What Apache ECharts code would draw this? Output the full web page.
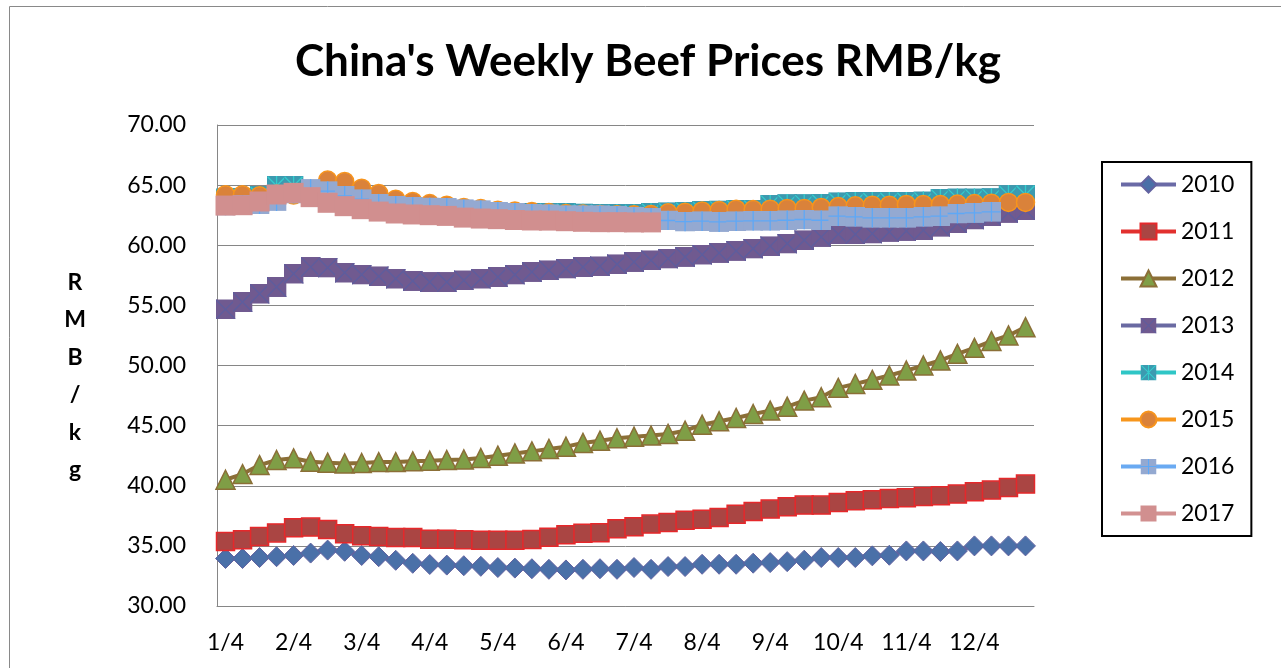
<!DOCTYPE html>
<html>
<head>
<meta charset="utf-8">
<title>China's Weekly Beef Prices RMB/kg</title>
<script src="https://cdn.jsdelivr.net/npm/echarts@6/dist/echarts.min.js"></script>
<style>
  html, body { margin: 0; padding: 0; background: #fff; }
  #chart { width: 1281px; height: 668px; }
</style>
</head>
<body>
<div id="chart"></div>
<script>
// weeks of the year, 4 per month
const weeks = [
  '1/4', '1/11', '1/18', '1/25', '2/4', '2/11', '2/18', '2/25',
  '3/4', '3/11', '3/18', '3/25', '4/4', '4/11', '4/18', '4/25',
  '5/4', '5/11', '5/18', '5/25', '6/4', '6/11', '6/18', '6/25',
  '7/4', '7/11', '7/18', '7/25', '8/4', '8/11', '8/18', '8/25',
  '9/4', '9/11', '9/18', '9/25', '10/4', '10/11', '10/18', '10/25',
  '11/4', '11/11', '11/18', '11/25', '12/4', '12/11', '12/18', '12/25'
];

const years = ['2010', '2011', '2012', '2013', '2014', '2015', '2016', '2017'];

const y2010 = [33.95, 33.95, 34.03, 34.1, 34.2, 34.4, 34.65, 34.55, 34.2, 34.1, 33.8, 33.55,
  33.45, 33.4, 33.35, 33.3, 33.2, 33.15, 33.1, 33.05, 33.0, 33.05, 33.1, 33.05,
  33.2, 33.05, 33.28, 33.28, 33.47, 33.47, 33.47, 33.56, 33.61, 33.69, 33.81, 34.03,
  34.03, 34.03, 34.17, 34.22, 34.58, 34.58, 34.53, 34.58, 35.0, 35.0, 35.0, 35.0];

const y2011 = [35.36, 35.5, 35.78, 36.08, 36.5, 36.56, 36.36, 36.0, 35.85, 35.77, 35.7, 35.69,
  35.56, 35.56, 35.5, 35.47, 35.47, 35.47, 35.53, 35.72, 35.92, 36.05, 36.1, 36.42,
  36.6, 36.81, 36.94, 37.14, 37.22, 37.36, 37.64, 37.86, 38.06, 38.25, 38.39, 38.39,
  38.61, 38.75, 38.83, 38.94, 39.0, 39.11, 39.17, 39.31, 39.5, 39.64, 39.86, 40.14];

const y2012 = [40.5, 40.97, 41.72, 42.14, 42.28, 42.0, 41.92, 41.86, 41.89, 41.97, 41.97, 42.03,
  42.08, 42.14, 42.19, 42.31, 42.5, 42.69, 42.86, 43.06, 43.25, 43.56, 43.75, 43.95,
  44.08, 44.17, 44.31, 44.58, 45.08, 45.36, 45.64, 45.97, 46.25, 46.58, 47.08, 47.36,
  48.14, 48.47, 48.81, 49.17, 49.58, 50.0, 50.42, 50.97, 51.47, 52.03, 52.5, 53.19];

const y2013 = [54.67, 55.28, 55.97, 56.53, 57.64, 58.19, 58.14, 57.72, 57.56, 57.42, 57.22, 57.03,
  56.94, 56.94, 57.08, 57.22, 57.36, 57.56, 57.78, 57.92, 58.06, 58.19, 58.25, 58.42,
  58.61, 58.75, 58.89, 59.03, 59.22, 59.36, 59.53, 59.72, 59.92, 60.14, 60.42, 60.69,
  60.92, 60.92, 60.97, 61.11, 61.19, 61.25, 61.53, 61.81, 62.14, 62.42, 62.69, 62.92];

const y2014 = [63.9, 63.95, 64.1, 64.95, 64.95, 64.4, 64.1, 63.8, 63.5, 63.3, 63.1, 63.0,
  62.95, 62.9, 62.85, 62.8, 62.75, 62.72, 62.72, 62.72, 62.7, 62.65, 62.62, 62.6,
  62.6, 62.7, 62.75, 62.8, 62.85, 62.9, 62.97, 62.97, 63.38, 63.42, 63.42, 63.45,
  63.58, 63.6, 63.6, 63.62, 63.62, 63.65, 63.88, 63.9, 63.9, 63.92, 64.17, 64.2];

const y2015 = [64.2, 64.2, 64.11, 64.25, 64.17, 64.6, 65.42, 65.31, 64.75, 64.31, 63.83, 63.64,
  63.47, 63.33, 63.14, 63.05, 62.92, 62.85, 62.8, 62.72, 62.65, 62.6, 62.56, 62.53,
  62.53, 62.55, 62.7, 62.75, 62.85, 62.9, 63.0, 62.97, 63.0, 63.06, 63.06, 63.14,
  63.22, 63.28, 63.33, 63.33, 63.39, 63.39, 63.39, 63.42, 63.47, 63.5, 63.56, 63.56];

// 2016 stops two weeks before the year end
const y2016 = [63.3, 63.35, 63.42, 63.69, 64.3, 64.67, 64.5, 64.11, 63.83, 63.47, 63.28, 63.2,
  63.14, 63.1, 63.0, 62.92, 62.78, 62.72, 62.64, 62.58, 62.5, 62.5, 62.5, 62.44,
  62.36, 62.28, 62.06, 61.97, 62.0, 61.94, 62.0, 62.03, 62.03, 62.08, 62.14, 62.08,
  62.42, 62.36, 62.28, 62.28, 62.28, 62.36, 62.42, 62.64, 62.69, 62.78];

// 2017 data up to mid July
const y2017 = [63.3, 63.33, 63.64, 64.22, 64.36, 64.0, 63.53, 63.25, 63.0, 62.8, 62.64, 62.56,
  62.5, 62.44, 62.3, 62.22, 62.17, 62.1, 62.06, 62.05, 62.0, 61.95, 61.92, 61.92,
  61.9, 61.9];

const FONT = 'Lato';

// square markers with the excel line patterns drawn inside
const svgMarker = (fill, stroke, path) => 'image://data:image/svg+xml;utf8,' + encodeURIComponent(
  `<svg xmlns="http://www.w3.org/2000/svg" width="20" height="20" viewBox="0 0 20 20">` +
  `<rect x="0" y="0" width="20" height="20" fill="${fill}"/>` +
  `<path d="${path}" stroke="${stroke}" stroke-width="1.3" fill="none"/></svg>`
);

const seriesStyles = [
  { data: y2010, line: '#6a6aa6', symbol: 'diamond', size: 20, fill: '#4a70a8', border: '#6262a0', bw: 1 },
  { data: y2011, line: '#e2302e', symbol: 'rect', size: 18, fill: '#aa4543', border: '#e5282b', bw: 1.5 },
  { data: y2012, line: '#8b6f37', symbol: 'triangle', size: 19, fill: '#7f9e46', border: '#8b6f37', bw: 1.5 },
  { data: y2013, line: '#6a6aa2', symbol: svgMarker('#705a90', '#5d5d9e', 'M0 0L20 20M20 0L0 20'), size: 20 },
  { data: y2014, line: '#2fc6c6', symbol: svgMarker('#3c9ab0', '#33cccc', 'M1 1L19 19M19 1L1 19M10 0V20'), size: 20 },
  { data: y2015, line: '#f7961c', symbol: 'circle', size: 18, fill: '#da823a', border: '#f7941d', bw: 1.5 },
  { data: y2016, line: '#6aaaf2', symbol: svgMarker('#94a9d1', '#5ea8f6', 'M10 0V20M0 10H20'), size: 20 },
  { data: y2017, line: '#d29191', symbol: 'rect', size: 20, fill: '#d18f8f', border: '#d18f8f', bw: 0 }
];

const chart = echarts.init(document.getElementById('chart'));

const series = seriesStyles.map((s, i) => ({
  name: years[i],
  type: 'line',
  data: s.data,
  symbol: s.symbol,
  symbolSize: s.size,
  showAllSymbol: true,
  lineStyle: { color: s.line, width: 4 },
  itemStyle: s.fill ? {
    color: s.fill,
    borderColor: s.border,
    borderWidth: s.bw
  } : { color: s.line },
  emphasis: { disabled: true }
}));

const option = {
  animation: false,
  title: {
    text: "China's Weekly Beef Prices RMB/kg",
    left: 295,
    top: 40,
    padding: 0,
    textStyle: { fontFamily: FONT, fontWeight: 'bold', fontSize: 44, color: '#000' }
  },
  legend: {
    data: years,
    orient: 'vertical',
    left: 1102,
    top: 162,
    padding: [11, 17, 11, 17],
    itemWidth: 55,
    itemHeight: 20,
    itemGap: 24,
    borderColor: '#000',
    borderWidth: 2,
    lineStyle: { width: 4 },
    textStyle: { fontFamily: FONT, fontSize: 23, color: '#000' }
  },
  grid: {
    left: 217,
    top: 125,
    width: 817,
    height: 481,
    containLabel: false
  },
  xAxis: {
    type: 'category',
    data: weeks,
    boundaryGap: true,
    axisLine: { show: true, lineStyle: { color: '#868686', width: 1 } },
    axisTick: { show: false },
    axisLabel: {
      interval: 3,
      margin: 25,
      color: '#000',
      fontFamily: FONT,
      fontSize: 23
    },
    splitLine: { show: false }
  },
  yAxis: {
    type: 'value',
    min: 30,
    max: 70,
    interval: 5,
    axisLine: { show: true, lineStyle: { color: '#868686', width: 1 } },
    axisTick: { show: false },
    axisLabel: {
      margin: 31,
      color: '#000',
      fontFamily: FONT,
      fontSize: 23,
      formatter: (v) => v.toFixed(2)
    },
    splitLine: { show: true, lineStyle: { color: '#868686', width: 1 } }
  },
  graphic: [{
    type: 'rect',
    silent: true,
    shape: { x: 9.5, y: 6.5, width: 1300, height: 700 },
    style: { fill: 'none', stroke: '#898989', lineWidth: 1 }
  }, {
    // stacked y axis title, one letter per line like the excel original
    type: 'text',
    silent: true,
    x: 75,
    y: 376,
    style: {
      text: 'R\nM\nB\n/\nk\ng',
      fontFamily: FONT,
      fontWeight: 'bold',
      fontSize: 23,
      lineHeight: 37.5,
      fill: '#000',
      align: 'center',
      verticalAlign: 'middle'
    }
  }],
  series: series
};

chart.setOption(option);
</script>
</body>
</html>
